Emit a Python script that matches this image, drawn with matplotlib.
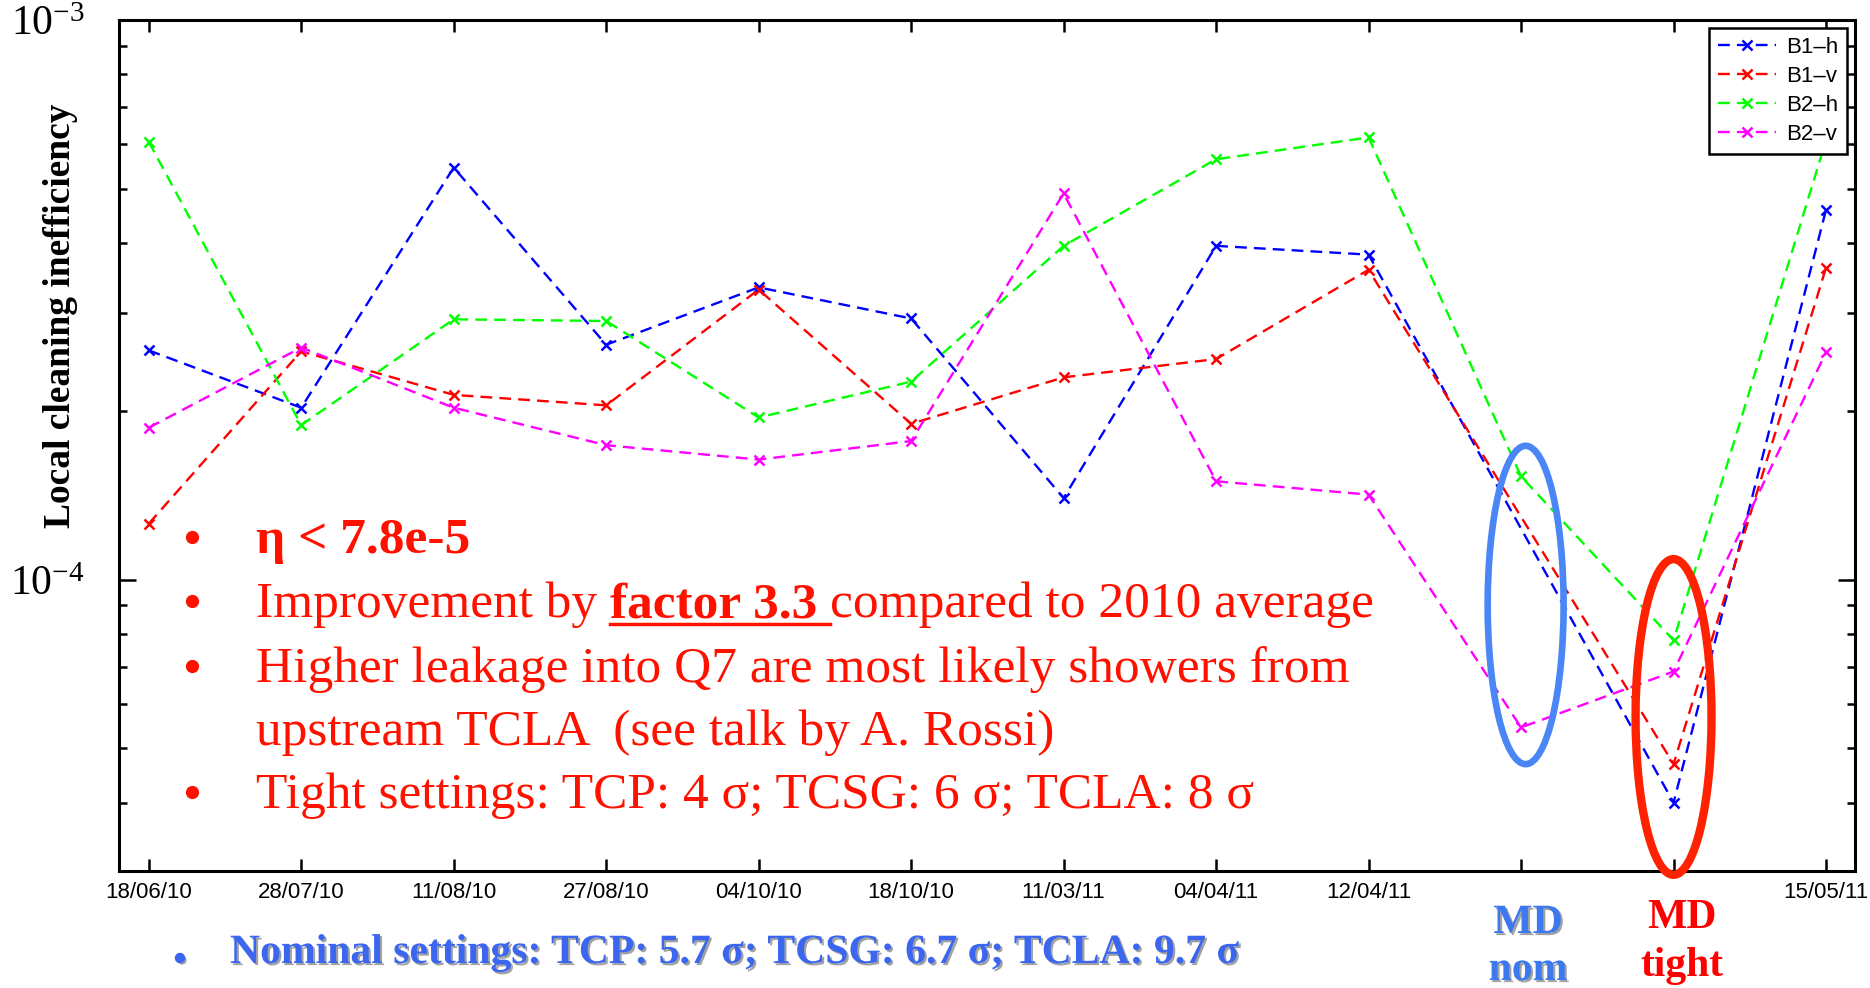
import numpy as np
import matplotlib
matplotlib.use('Agg')
import matplotlib.pyplot as plt
import matplotlib.patheffects as pe
from matplotlib.patches import Ellipse
from matplotlib.lines import Line2D
from matplotlib.ticker import LogLocator, NullFormatter, FuncFormatter
from matplotlib.transforms import IdentityTransform, blended_transform_factory

plt.rcParams['mathtext.fontset'] = 'custom'
plt.rcParams['mathtext.rm'] = 'Liberation Serif'
plt.rcParams['mathtext.it'] = 'Liberation Serif:italic'

# measurement dates (two MD sessions have no date label)
dates = ['18/06/10', '28/07/10', '11/08/10', '27/08/10', '04/10/10', '18/10/10',
         '11/03/11', '04/04/11', '12/04/11', '', '', '15/05/11']

# local cleaning inefficiency per beam / plane (nan = not measured)
b1_h = [2.57e-4, 2.03e-4, 5.45e-4, 2.63e-4, 3.33e-4, 2.93e-4,
        1.40e-4, 3.95e-4, 3.81e-4, np.nan, 4.0e-5, 4.58e-4]
b1_v = [1.26e-4, 2.56e-4, 2.14e-4, 2.05e-4, 3.30e-4, 1.90e-4,
        2.30e-4, 2.48e-4, 3.58e-4, np.nan, 4.69e-5, 3.61e-4]
b2_h = [6.06e-4, 1.89e-4, 2.92e-4, 2.90e-4, 1.95e-4, 2.26e-4,
        3.95e-4, 5.64e-4, 6.17e-4, 1.53e-4, 7.8e-5, 6.1e-4]
b2_v = [1.87e-4, 2.60e-4, 2.03e-4, 1.74e-4, 1.64e-4, 1.77e-4,
        4.90e-4, 1.50e-4, 1.42e-4, 5.45e-5, 6.86e-5, 2.55e-4]

series = [('B1\u2013h', b1_h, '#0000FF'),
          ('B1\u2013v', b1_v, '#FF0000'),
          ('B2\u2013h', b2_h, '#00FF00'),
          ('B2\u2013v', b2_v, '#FF00FF')]

W, H = 1870, 988
fig = plt.figure(figsize=(W / 100, H / 100), dpi=100)
ax = fig.add_axes([119 / W, 1 - 871 / H, (1855 - 119) / W, (871 - 20) / H])

x = np.arange(len(dates))
for name, vals, color in series:
    v = np.array(vals, dtype=float)
    ok = ~np.isnan(v)
    ax.plot(x[ok], v[ok], ls=(0, (5, 3)), lw=1.7, color=color,
            marker='x', ms=7, mew=1.8, label=name)

ax.set_yscale('log')
ax.set_ylim(3.02e-5, 1e-3)
ax.set_xlim(-0.195, 11.19)
ax.set_xticks(x)
ax.set_xticklabels(dates, family='Liberation Sans', fontsize=16)
ax.yaxis.set_major_locator(LogLocator(base=10))
ax.yaxis.set_minor_locator(LogLocator(base=10, subs=np.arange(2, 10)))
ax.yaxis.set_minor_formatter(NullFormatter())
ax.yaxis.set_major_formatter(FuncFormatter(lambda v, p: r'$10^{%d}$' % round(np.log10(v))))
for lab in ax.get_yticklabels():
    lab.set_family('Liberation Serif')
    lab.set_fontsize(30)

ax.tick_params(axis='x', which='major', direction='in', length=8.6, width=1.8, top=True, pad=8)
ax.tick_params(axis='x', which='minor', bottom=False, top=False)
ax.tick_params(axis='y', which='major', direction='in', length=12, width=1.8, right=True, pad=25)
ax.tick_params(axis='y', which='minor', direction='in', length=6, width=1.8, right=True)
for s in ax.spines.values():
    s.set_linewidth(2.2)

leg = ax.legend(loc='upper right', prop={'family': 'Liberation Sans', 'size': 16},
                fancybox=False, edgecolor='black', framealpha=1, handlelength=2.6,
                handletextpad=0.45, borderaxespad=0.35, labelspacing=0.36, borderpad=0.4)
leg.get_frame().set_linewidth(1.8)

# ellipses marking the two MD points
tr = blended_transform_factory(ax.transData, ax.transAxes)
ax.add_patch(Ellipse((9.03, 0.3126), 0.498, 0.374, transform=tr, fill=False,
                     ec='#4A86F5', lw=4.8, zorder=10, clip_on=False))
ax.add_patch(Ellipse((10.0, 0.181), 0.498, 0.371, transform=tr, fill=False,
                     ec='#FF2200', lw=6, zorder=10, clip_on=False))

fig.text(61 / W, 1 - 316 / H, 'Local cleaning inefficiency', rotation=90,
         ha='center', va='center', family='Liberation Serif', weight='bold', size=27)

# annotation text, positioned in pixels from the top-left corner
px = IdentityTransform()
serif = 'Liberation Serif'
red = '#FF1100'
blue = '#3A66F0'
shadow = [pe.withSimplePatchShadow(offset=(1.5, -1.5), shadow_rgbFace='#444444', alpha=0.5)]
r = fig.canvas.get_renderer()


def say(xp, yp, s, **kw):
    kw.setdefault('va', 'baseline')
    return fig.text(xp, H - yp, s, transform=px, family=serif, **kw)


def dot(xp, yp, color, ms, **kw):
    fig.add_artist(Line2D([xp], [H - yp], transform=px, marker='o', ms=ms,
                          mfc=color, mec=color, ls='none', **kw))


size = 37
space = 0.25 * size * 100 / 72
base = [553, 617, 682, 745, 808]
for yb in (base[0], base[1], base[2], base[4]):
    dot(192, yb - 16, red, 8.5)

say(256, base[0], '\u03b7 < 7.8e-5', color=red, size=size, weight='bold')

t1 = say(256, base[1], 'Improvement by', color=red, size=size)
x1 = t1.get_window_extent(r).x1 + space
t2 = say(x1, base[1], 'factor 3.3', color=red, size=size, weight='bold')
x2 = t2.get_window_extent(r).x1 + space
fig.add_artist(Line2D([x1, x2], [H - base[1] - 7, H - base[1] - 7], transform=px,
                      color=red, lw=2.5))
say(x2, base[1], 'compared to 2010 average', color=red, size=size)

say(256, base[2], 'Higher leakage into Q7 are most likely showers from', color=red, size=size)
say(256, base[3], 'upstream TCLA  (see talk by A. Rossi)', color=red, size=size)
say(256, base[4], 'Tight settings: TCP: 4 \u03c3; TCSG: 6 \u03c3; TCLA: 8 \u03c3', color=red, size=size)

say(1528, 933, 'MD', ha='center', color='#3C78EE', size=30, weight='bold', path_effects=shadow)
say(1528, 980, 'nom', ha='center', color='#3C78EE', size=30, weight='bold', path_effects=shadow)
say(1682, 928, 'MD', ha='center', color='#FF0000', size=30, weight='bold')
say(1682, 976, 'tight', ha='center', color='#FF0000', size=30, weight='bold')

dot(180, 958, blue, 6.5, path_effects=shadow)
say(230, 963, 'Nominal settings: TCP: 5.7 \u03c3; TCSG: 6.7 \u03c3; TCLA: 9.7 \u03c3',
    color=blue, size=30, weight='bold', path_effects=shadow)

fig.savefig('out.png', dpi=100)
